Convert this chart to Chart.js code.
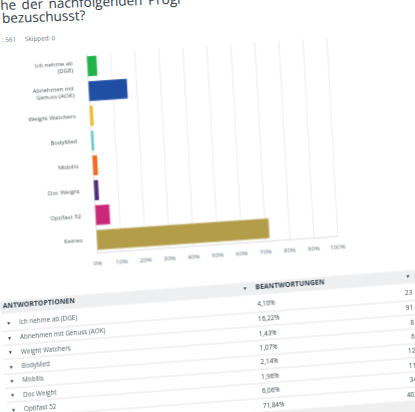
<!DOCTYPE html>
<html><head><meta charset="utf-8">
<script src="https://cdn.jsdelivr.net/npm/chart.js@4.4.1/dist/chart.umd.min.js"></script>
<style>
html,body{margin:0;padding:0;background:#fff;}
body{width:415px;height:412px;overflow:hidden;position:relative;font-family:'Open Sans',sans-serif;}
.blk{position:absolute;left:0;top:0;width:415px;height:412px;}
#head{transform-origin:0 0;transform:matrix(1,-0.035,0.05,1,0,0);}
#chartBlk{transform-origin:0 0;transform:matrix(1,-0.068,0.055,1,0,0);}
#tableBlk{transform-origin:0 300px;transform:matrix(1,-0.075,0.055,1,0,0);width:460px;height:480px;}
.abs{position:absolute;white-space:nowrap;}
.t1{font-size:13.5px;line-height:13px;color:#333e48;}
.st{font-size:6.3px;line-height:6px;color:#6b787f;}
.hd{font-size:6.8px;line-height:7px;font-weight:700;color:#333e48;letter-spacing:0.1px;}
.lb{font-size:6.3px;line-height:7px;color:#555f66;}
.num{font-size:6.4px;line-height:7px;color:#3f474d;}
.arr{font-size:5px;line-height:6px;color:#333e48;}
</style>
</head>
<body>
<div id="head" class="blk">
  <div class="abs t1" style="left:0;top:-1.5px;word-spacing:2px">he der nachfolgenden Progr</div>
  <div class="abs t1" style="left:1px;top:11.5px">bezuschusst?</div>
  <div class="abs st" style="left:0;top:37px">: 561</div>
  <div class="abs st" style="left:23px;top:37.4px">Skipped: 0</div>
</div>
<div id="chartBlk" class="blk">
  <canvas id="c" width="345" height="230" style="position:absolute;left:0;top:50px;width:345px;height:230px"></canvas>
</div>
<div id="tableBlk" class="blk"></div>
<script>
// ---- data ----
const categories = ["Ich nehme ab (DGE)", "Abnehmen mit Genuss (AOK)", "Weight Watchers", "BodyMed", "Mobilis", "Doc Weight", "Optifast 52", "Keines"];
const chartLabels = [["Ich nehme ab", "(DGE)"], ["Abnehmen mit", "Genuss (AOK)"], "Weight Watchers", "BodyMed", "Mobilis", "Doc Weight", "Optifast 52", "Keines"];
const percents = [4.10, 16.22, 1.43, 1.07, 2.14, 1.96, 6.06, 71.84];
const counts = [23, 91, 8, 6, 12, 11, 34, 403];
const barColors = ["#21b24b", "#1f4fa3", "#f4b41a", "#4cbfc9", "#f26b22", "#4f2a7a", "#cc2879", "#b49d48"];
const columnHeaders = ["ANTWORTOPTIONEN", "BEANTWORTUNGEN"];

const fam = "'Open Sans', sans-serif";
new Chart(document.getElementById('c'), {
  type: 'bar',
  data: {
    labels: chartLabels,
    datasets: [{
      data: percents,
      backgroundColor: barColors,
      borderWidth: 0,
      barPercentage: 0.8,
      categoryPercentage: 1
    }]
  },
  options: {
    indexAxis: 'y',
    responsive: false,
    animation: false,
    devicePixelRatio: 1,
    layout: { padding: { top: 7, right: 22, left: 0, bottom: 0 } },
    plugins: { legend: { display: false }, tooltip: { enabled: false } },
    scales: {
      x: {
        min: 0, max: 100,
        ticks: { stepSize: 10, callback: v => v + '%', font: { size: 6, family: fam }, color: '#5f6b72', padding: 8, maxRotation: 0, autoSkip: false },
        grid: { color: '#ececec', drawTicks: false },
        border: { color: '#dedede' },
        afterFit: s => { s.height = 22; }
      },
      y: {
        ticks: { font: { size: 6, family: fam, lineHeight: 1.2 }, color: '#4a5257', padding: 6, autoSkip: false },
        grid: { display: false },
        border: { color: '#dedede' },
        afterFit: s => { s.width = 83; }
      }
    }
  }
});

// ---- table ----
const tb = document.getElementById('tableBlk');
function add(cls, text, css) {
  const d = document.createElement('div');
  d.className = 'abs ' + cls;
  d.textContent = text;
  Object.assign(d.style, css);
  tb.appendChild(d);
  return d;
}
function box(css) {
  const d = document.createElement('div');
  d.className = 'abs';
  Object.assign(d.style, css);
  tb.appendChild(d);
}
const row0 = 323.5, rowStep = 14.36;
box({ left: '0px', top: '300.5px', width: '460px', height: '13px', background: '#eeeff0' });
add('hd', columnHeaders[0], { left: '2.5px', top: '303px' });
add('arr', '\u25BC', { left: '242px', top: '304px' });
add('hd', columnHeaders[1], { left: '255px', top: '303px' });
add('arr', '\u25BC', { left: '405px', top: '304px' });
categories.forEach((cat, i) => {
  const cy = row0 + i * rowStep;
  box({ left: '0px', top: (cy + rowStep / 2) + 'px', width: '460px', height: '1px', background: '#e6e6e6' });
  add('arr', '\u25BC', { left: '5px', top: (cy - 3) + 'px' });
  add('lb', cat, { left: '18px', top: (cy - 3.5) + 'px' });
  add('num', percents[i].toFixed(2).replace('.', ',') + '%', { left: '256px', top: (cy - 3.5) + 'px' });
  add('num', String(counts[i]), { left: '371px', top: (cy - 3.5) + 'px', width: '40px', textAlign: 'right' });
});
box({ left: '0px', top: (row0 + (categories.length - 1) * rowStep + 7.5) + 'px', width: '460px', height: '40px', background: '#efefef' });
</script>
</body></html>
